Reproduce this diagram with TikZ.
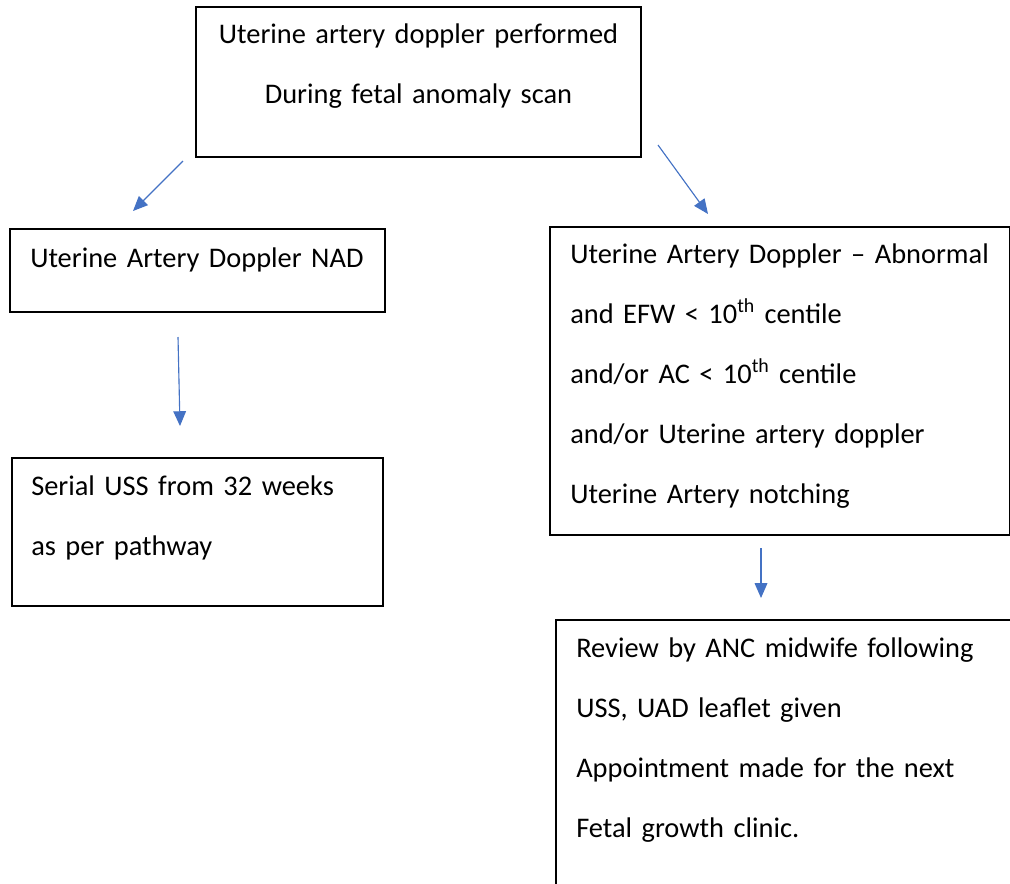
\documentclass[tikz,border=0pt]{standalone}
\usepackage{fontspec}
\setmainfont{Carlito}
\usepackage{xcolor}
\usepackage{tikz}
\usetikzlibrary{arrows.meta, positioning}

\definecolor{flowblue}{HTML}{4472C4}

\begin{document}
\begin{tikzpicture}[
    x=0.025cm, y=-0.025cm,
    % --- Styles ---
    box style/.style={draw=black, line width=0.9pt, rectangle, inner sep=0pt, outer sep=0pt, anchor=north west},
    box text/.style={inner sep=0pt, align=left, text width=11cm,
        font=\fontsize{20.2}{42.7}\selectfont, anchor=base west},
    flow arrow/.style={-{Triangle[length=10.5pt, width=9pt]}, draw=flowblue, fill=flowblue, line width=0.8pt}
]
    \useasboundingbox (0,0) rectangle (1010,883);
    \clip (0,0) rectangle (1010,883);

    %% --- Boxes ---
    \node[box style, minimum width=11.125cm, minimum height=3.75cm] (scan) at (196,7) {};
    \node[box style, minimum width=9.375cm, minimum height=2.075cm] (nad) at (10,229) {};
    \node[box style, minimum width=9.275cm, minimum height=3.7cm] (serial) at (12,458) {};
    \node[box style, minimum width=11.475cm, minimum height=7.7cm] (abnormal) at (550,227) {};
    \node[box style, minimum width=11.85cm, minimum height=7.25cm] (review) at (556,620) {};

    %% --- Texts ---
    \node[box text, align=center, text width=11.125cm, anchor=base] (scanText) at (418.5,43)
        {Uterine artery doppler performed\\During fetal anomaly scan};
    \node[box text] (nadText) at (30,267) {Uterine Artery Doppler NAD};
    \node[box text] (serialText) at (31,495) {Serial USS from 32 weeks\\as per pathway};
    \node[box text] (abnormalText) at (570,263)
        {Uterine Artery Doppler -- Abnormal\\
         and EFW < 10\textsuperscript{th} centile\\
         and/or AC < 10\textsuperscript{th} centile\\
         and/or Uterine artery doppler\\
         Uterine Artery notching};
    \node[box text] (reviewText) at (576,657)
        {Review by ANC midwife following\\
         USS, UAD leaflet given\\
         Appointment made for the next\\
         Fetal growth clinic.};

    %% --- Arrow ends (arrows float between the boxes) ---
    \coordinate (leftStart) at (183,161);  \coordinate (leftEnd) at (133,211);
    \coordinate (rightStart) at (658,145); \coordinate (rightEnd) at (708,214);
    \coordinate (nadStart) at (178,337);   \coordinate (nadEnd) at (180,426);
    \coordinate (abnStart) at (761,548);   \coordinate (abnEnd) at (761,598);

    \draw[flow arrow] (leftStart) -- (leftEnd);
    \draw[flow arrow] (rightStart) -- (rightEnd);
    \draw[flow arrow] (nadStart) -- (nadEnd);
    \draw[flow arrow] (abnStart) -- (abnEnd);
\end{tikzpicture}
\end{document}
